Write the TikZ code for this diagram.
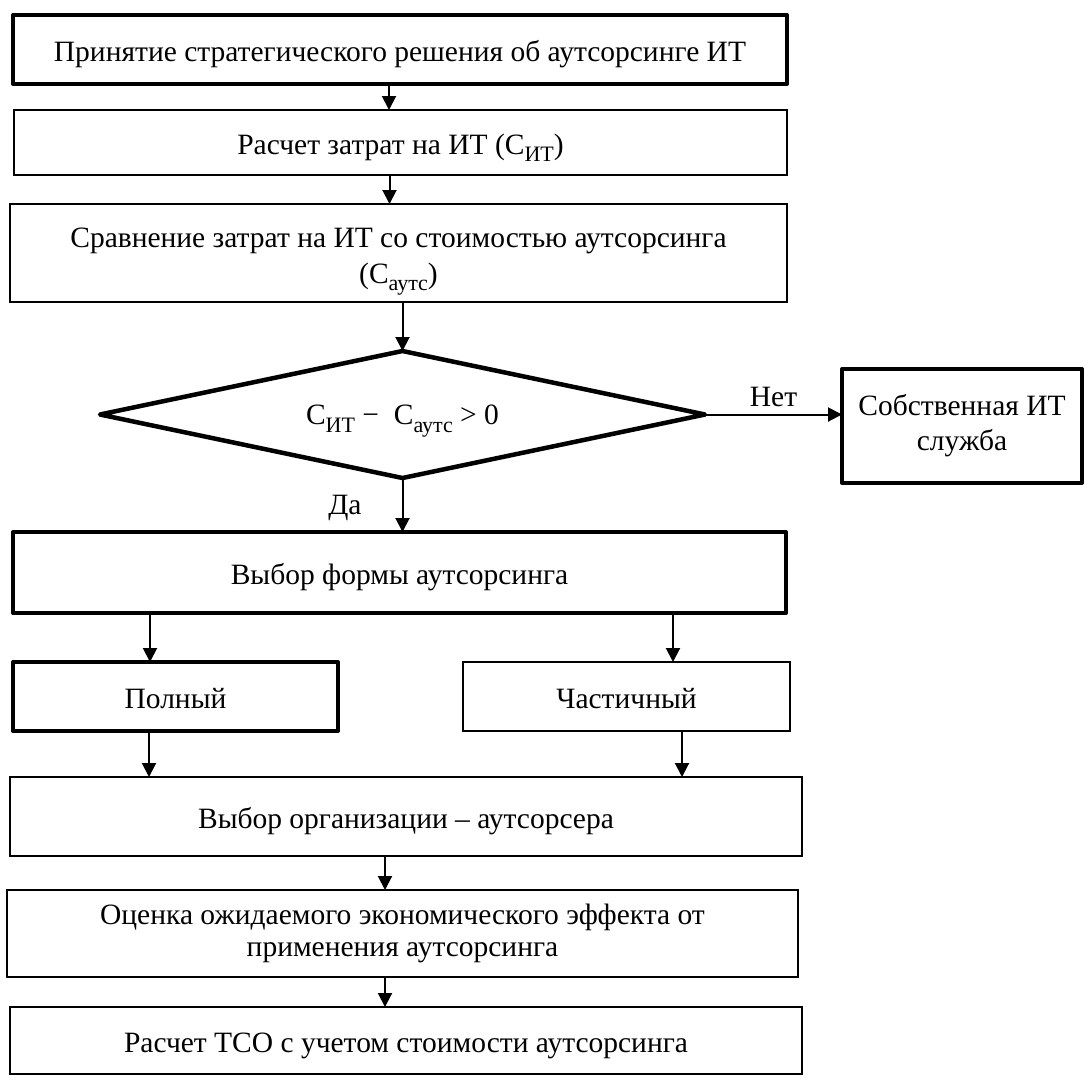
\documentclass[tikz,border=0pt]{standalone}
\usepackage{fontspec}
\setmainfont{Liberation Serif}
\usetikzlibrary{shapes.geometric,arrows.meta}
\newcommand\lowsub[1]{\raisebox{-0.25em}{\fontsize{22}{22}\selectfont #1}}
\begin{document}
\begin{tikzpicture}[x=1pt,y=-1pt,
  font=\fontsize{29.5}{35}\selectfont,
  box/.style={draw, line width=2pt, inner sep=0pt, outer sep=0pt, align=center,
    execute at begin node={\rule[-7pt]{0pt}{38pt}}},
  thickbox/.style={box, line width=4pt, line join=round},
  arr/.style={line width=2pt, -{Triangle[width=14pt,length=14pt]}}]
\useasboundingbox (0,0) rectangle (1087,1080);
\node[thickbox, minimum width=774pt, minimum height=69pt] (b1) at (400,49.5)
  {Принятие стратегического решения об аутсорсинге ИТ};
\node[box, minimum width=773pt, minimum height=65pt] (b2) at (400.5,142.5)
  {Расчет затрат на ИТ (C\lowsub{ИТ})};
\node[box, minimum width=777pt, minimum height=98pt] (b3) at (398.5,253)
  {\rule{0pt}{37pt}Сравнение затрат на ИТ со стоимостью аутсорсинга\\[1pt](C\lowsub{аутс})};
\node[diamond, draw, line width=4.5pt, line join=round, inner sep=0pt, outer sep=0pt,
  aspect=4.76, minimum width=605pt, minimum height=127pt] (d) at (402.5,414.5)
  {\rule[-7pt]{0pt}{40pt}C\lowsub{ИТ} − \ C\lowsub{аутс} > 0};
\node[thickbox, minimum width=240pt, minimum height=114pt] (s) at (962,426)
  {Собственная ИТ\\служба};
\node[thickbox, minimum width=773pt, minimum height=81pt] (f) at (399.5,572.5)
  {Выбор формы аутсорсинга};
\node[thickbox, minimum width=325pt, minimum height=69pt] (p) at (175.5,696.5)
  {Полный};
\node[box, minimum width=327pt, minimum height=69pt] (c) at (626.5,696.5)
  {Частичный};
\node[box, minimum width=792pt, minimum height=79pt] (o) at (406,816.5)
  {Выбор организации – аутсорсера};
\node[box, minimum width=791pt, minimum height=87pt] (e) at (402.5,933.5)
  {Оценка ожидаемого экономического эффекта от\\[-3pt]применения аутсорсинга};
\node[box, minimum width=792pt, minimum height=67pt] (t) at (406,1040.5)
  {Расчет TCO с учетом стоимости аутсорсинга};

\draw[arr] ([xshift=-11pt]b1.south) -- ([xshift=-11pt]b1.south |- b2.north);
\draw[arr] ([xshift=-11pt]b2.south) -- ([xshift=-11pt]b2.south |- b3.north);
\draw[arr] (b3.south -| d.north) -- (d.north);
\draw[arr] (d.east) -- (d.east -| s.west) node[midway, above=7pt, inner sep=0pt] {Нет};
\draw[arr] (d.south) -- (d.south |- f.north) node[pos=0.55, left=40pt, inner sep=0pt] {Да};
\draw[arr] ([xshift=-25.5pt]p.north |- f.south) -- ([xshift=-25.5pt]p.north);
\draw[arr] ([xshift=46.5pt]c.north |- f.south) -- ([xshift=46.5pt]c.north);
\draw[arr] ([xshift=-26.5pt]p.south) -- ([xshift=-26.5pt]p.south |- o.north);
\draw[arr] ([xshift=55.5pt]c.south) -- ([xshift=55.5pt]c.south |- o.north);
\draw[arr] ([xshift=-21pt]o.south) -- ([xshift=-21pt]o.south |- e.north);
\draw[arr] ([xshift=-17.5pt]e.south) -- ([xshift=-17.5pt]e.south |- t.north);
\end{tikzpicture}
\end{document}
